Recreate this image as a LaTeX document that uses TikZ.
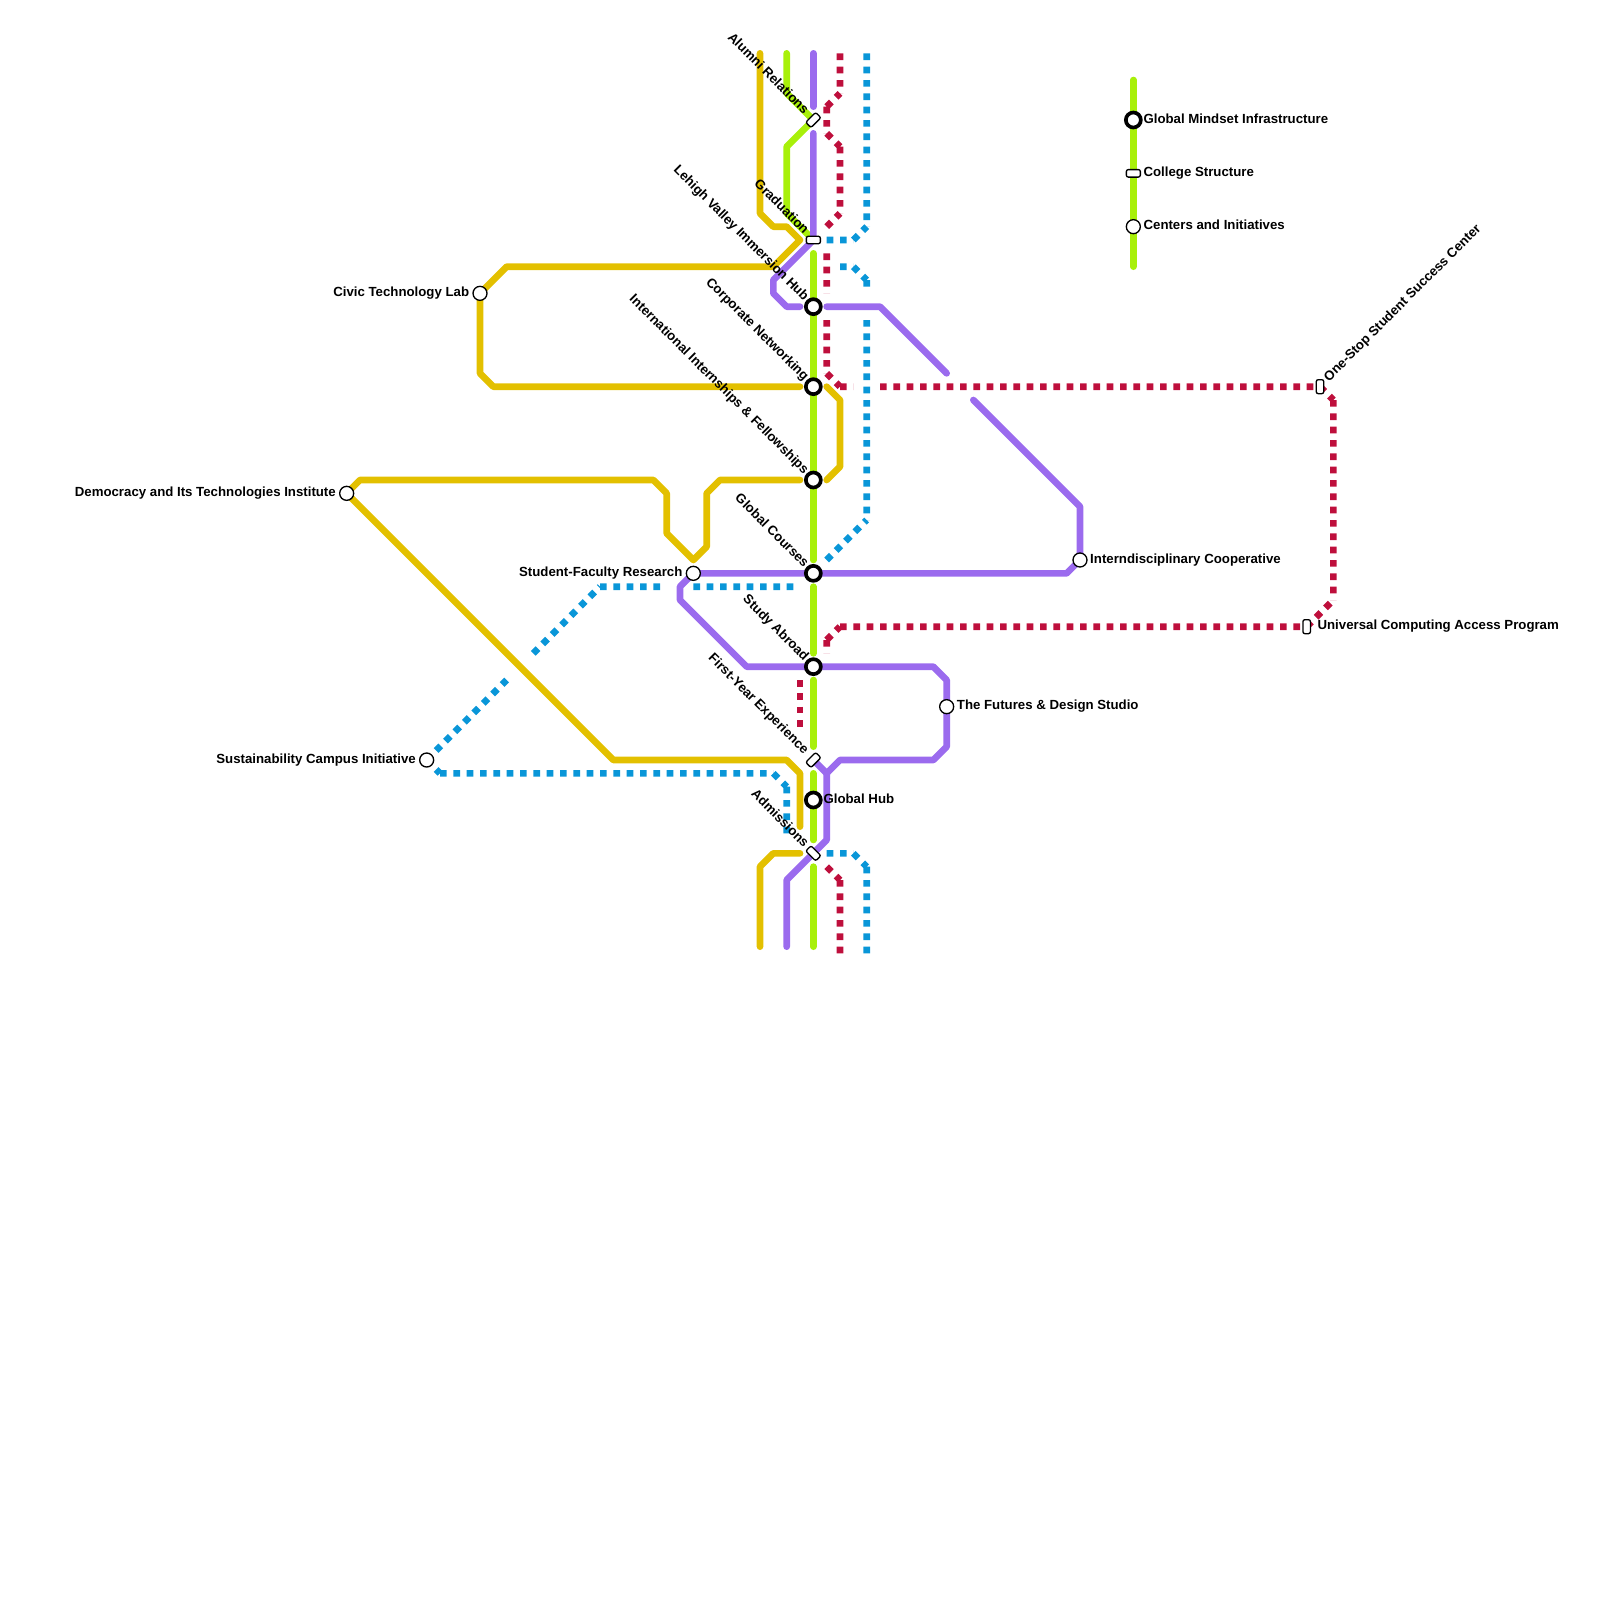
\documentclass[tikz,border=0pt]{standalone}
\usepackage{fontspec}
\setmainfont{Liberation Sans}
\usepackage{xcolor}
\usetikzlibrary{calc,positioning,backgrounds}
\definecolor{limeline}{HTML}{A8F00A}
\definecolor{goldline}{HTML}{E3C000}
\definecolor{violetline}{HTML}{9B6BEE}
\definecolor{crimsonline}{HTML}{BE0F3C}
\definecolor{skyline}{HTML}{0996D8}

\begin{document}
\begin{tikzpicture}[
  x=0.4cm, y=-0.4cm,
  solid line/.style={line width=0.2cm, line cap=round, line join=round},
  dot line/.style={line width=0.2cm, dash pattern=on 0.2cm off 0.2cm},
  hub/.style={circle, draw=black, fill=white, line width=0.11cm, minimum size=0.45cm, inner sep=0pt},
  stop/.style={circle, draw=black, fill=white, line width=0.04cm, minimum size=0.42cm, inner sep=0pt},
  rail/.style={draw=black, fill=white, line width=0.04cm, rounded corners=0.06cm, minimum width=0.42cm, minimum height=0.225cm, inner sep=0pt},
  nametext/.style={font=\fontsize{11.3}{13}\selectfont\bfseries, inner sep=0pt, text=black},
  righttext/.style={nametext, anchor=mid west},
  lefttext/.style={nametext, anchor=mid east},
  slanttext/.style={nametext, anchor=mid east, rotate=-45},
  risetext/.style={nametext, anchor=mid west, rotate=45},
]
\useasboundingbox (0,0) rectangle (120,120);

% stations
\node[rail, rotate=45] (alumni) at (61,9) {};
\node[rail] (graduation) at (61,18) {};
\node[hub] (lehigh) at (61,23) {};
\node[hub] (corporate) at (61,29) {};
\node[hub] (international) at (61,36) {};
\node[hub] (courses) at (61,43) {};
\node[hub] (abroad) at (61,50) {};
\node[rail, rotate=45] (firstyear) at (61,57) {};
\node[hub] (globalhub) at (61,60) {};
\node[rail, rotate=-45] (admissions) at (61,64) {};
\node[stop] (civic) at (36,22) {};
\node[stop] (democracy) at (26,37) {};
\node[stop] (research) at (52,43) {};
\node[stop] (sustain) at (32,57) {};
\node[stop] (futures) at (71,53) {};
\node[stop] (cooperative) at (81,42) {};
\node[rail, rotate=90] (onestop) at (99,29) {};
\node[rail, rotate=90] (universal) at (98,47) {};
\node[hub] (keyhub) at (85,9) {};
\node[rail] (keyrail) at (85,13) {};
\node[stop] (keystop) at (85,17) {};

% lines
\begin{scope}[on background layer]
\draw[solid line, limeline] (59,4) -- (59,7) -- (alumni.center) -- (59,11) -- (59,16) -- (graduation.center);
\draw[solid line, limeline] (61,19) -- (61,42) (61,44) -- (61,49) (61,51) -- (61,56) (61,58) -- (61,63) (61,65) -- (61,71);
\draw[solid line, limeline] (85,6) -- (85,20);

\draw[dot line, crimsonline] (63,4) -- (63,7) (62,8) -- (63,7) (62,8) -- (62,10) (62,10) -- (63,11) (63,11) -- (63,16) (62,17) -- (63,16);
\draw[dot line, crimsonline] (62,19) -- (62,22) (62,24) -- (62,28) (62,28) -- (63,29) (63,29) -- (64,29);
\draw[dot line, crimsonline] (66,29) -- (onestop.center) (onestop.center) -- (100,30) (100,30) -- (100,45) (universal.center) -- (100,45);
\draw[dot line, crimsonline] (63,47) -- (universal.center) (62,48) -- (63,47) (62,48) -- (62,49);
\draw[dot line, crimsonline] (60,51) -- (60,54.5);
\draw[dot line, crimsonline] (62,65) -- (63,66) (63,66) -- (63,71.5);

\draw[solid line, goldline] (57,4) -- (57,16) -- (58,17) -- (59,17) -- (60,18) -- (58,20) -- (38,20) -- (civic.center) -- (36,28) -- (37,29) -- (60,29);
\draw[solid line, goldline] (62,29) -- (63,30) -- (63,35) -- (62,36);
\draw[solid line, goldline] (60,36) -- (54,36) -- (53,37) -- (53,41) -- (52,42) -- (50,40) -- (50,37) -- (49,36) -- (27,36) -- (democracy.center) -- (46,57) -- (59,57) -- (60,58) -- (60,62);
\draw[solid line, goldline] (60,64) -- (58,64) -- (57,65) -- (57,71);

\draw[solid line, violetline] (61,4) -- (61,8);
\draw[solid line, violetline] (61,10) -- (graduation.center) -- (58,21) -- (58,22) -- (59,23) -- (60,23);
\draw[solid line, violetline] (62,23) -- (66,23) -- (71,28);
\draw[solid line, violetline] (73,30) -- (81,38) -- (cooperative.center) -- (80,43) -- (research.center) -- (51,44) -- (51,45) -- (56,50) -- (70,50) -- (71,51) -- (futures.center) -- (71,56) -- (70,57) -- (63,57) -- (62,58) -- (firstyear.center);
\draw[solid line, violetline] (62,58) -- (62,63) -- (admissions.center) -- (59,66) -- (59,71);

\draw[dot line, skyline] (65,4) -- (65,17) (62,18) -- (64,18) (64,18) -- (65,17);
\draw[dot line, skyline] (63,20) -- (64,20) (64,20) -- (65,21) (65,21) -- (65,21.5);
\draw[dot line, skyline] (65,24) -- (65,39) (62,42) -- (65,39);
\draw[dot line, skyline] (52,44) -- (59.5,44) (45,44) -- (49.5,44) (40,49) -- (45,44) (sustain.center) -- (38,51);
\draw[dot line, skyline] (sustain.center) -- (33,58) (33,58) -- (58,58) (58,58) -- (59,59) (59,59) -- (59,62.5);
\draw[dot line, skyline] (62,64) -- (64,64) (64,64) -- (65,65) (65,65) -- (65,71.5);
\end{scope}

% names
\node[slanttext] (alumnitext) at ($(alumni)+(-0.55,-0.55)$) {Alumni Relations};
\node[slanttext] (graduationtext) at ($(graduation)+(-0.55,-0.55)$) {Graduation};
\node[slanttext] (lehightext) at ($(lehigh)+(-0.55,-0.55)$) {Lehigh Valley Immersion Hub};
\node[slanttext] (corporatetext) at ($(corporate)+(-0.55,-0.55)$) {Corporate Networking};
\node[slanttext] (internationaltext) at ($(international)+(-0.55,-0.55)$) {International Internships \& Fellowships};
\node[slanttext] (coursestext) at ($(courses)+(-0.55,-0.55)$) {Global Courses};
\node[slanttext] (abroadtext) at ($(abroad)+(-0.55,-0.55)$) {Study Abroad};
\node[slanttext] (firstyeartext) at ($(firstyear)+(-0.55,-0.55)$) {First-Year Experience};
\node[slanttext] (admissionstext) at ($(admissions)+(-0.55,-0.55)$) {Admissions};
\node[risetext] (onestoptext) at ($(onestop)+(0.5,-0.5)$) {One-Stop Student Success Center};
\node[lefttext] (civictext) at ($(civic)+(-0.8,0)$) {Civic Technology Lab};
\node[lefttext] (democracytext) at ($(democracy)+(-0.8,0)$) {Democracy and Its Technologies Institute};
\node[lefttext] (researchtext) at ($(research)+(-0.8,0)$) {Student-Faculty Research};
\node[lefttext] (sustaintext) at ($(sustain)+(-0.8,0)$) {Sustainability Campus Initiative};
\node[righttext] (futurestext) at ($(futures)+(0.75,0)$) {The Futures \& Design Studio};
\node[righttext] (cooperativetext) at ($(cooperative)+(0.75,0)$) {Interndisciplinary Cooperative};
\node[righttext] (globalhubtext) at ($(globalhub)+(0.75,0)$) {Global Hub};
\node[righttext] (universaltext) at ($(universal)+(0.8,0)$) {Universal Computing Access Program};
\node[righttext] (keyhubtext) at ($(keyhub)+(0.75,0)$) {Global Mindset Infrastructure};
\node[righttext] (keyrailtext) at ($(keyrail)+(0.75,0)$) {College Structure};
\node[righttext] (keystoptext) at ($(keystop)+(0.75,0)$) {Centers and Initiatives};
\end{tikzpicture}
\end{document}
